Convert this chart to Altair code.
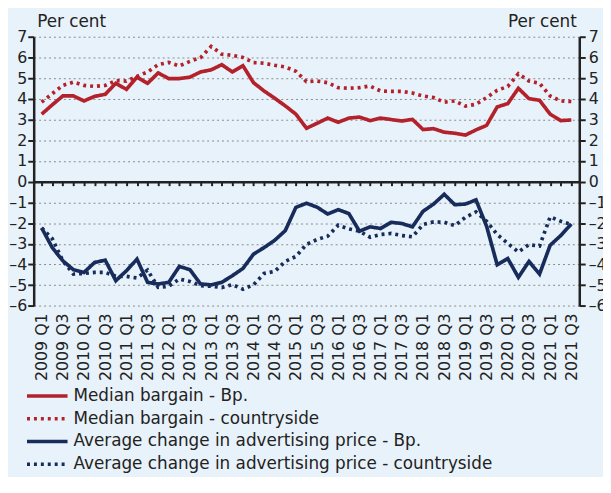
import altair as alt
import pandas as pd

# ---- data -------------------------------------------------------------
years = list(range(2009, 2022))
quarters = [f"{y} Q{q}" for y in years for q in (1, 2, 3, 4)][:51]  # 2009 Q1 .. 2021 Q3
label_quarters = [q for q in quarters if q.endswith("Q1") or q.endswith("Q3")]

median_bp = [3.26, 3.71, 4.14, 4.14, 3.90, 4.12, 4.22, 4.75, 4.46, 5.05, 4.75, 5.25, 4.98,
             4.98, 5.05, 5.30, 5.40, 5.65, 5.30, 5.60, 4.78, 4.38, 4.03, 3.66, 3.26, 2.58,
             2.82, 3.07, 2.87, 3.07, 3.12, 2.95, 3.07, 3.00, 2.93, 3.01, 2.52, 2.56, 2.39,
             2.34, 2.25, 2.50, 2.72, 3.61, 3.77, 4.51, 4.01, 3.93, 3.26, 2.95, 2.98]
median_cs = [3.84, 4.25, 4.65, 4.81, 4.65, 4.60, 4.65, 4.88, 4.86, 5.08, 5.30, 5.65, 5.76,
             5.59, 5.81, 5.99, 6.53, 6.16, 6.10, 6.00, 5.75, 5.72, 5.62, 5.54, 5.33, 4.83,
             4.86, 4.78, 4.54, 4.51, 4.54, 4.62, 4.38, 4.36, 4.36, 4.28, 4.14, 4.06, 3.84,
             3.90, 3.65, 3.74, 4.06, 4.41, 4.60, 5.21, 4.86, 4.75, 4.14, 3.90, 3.87]
avg_bp = [-2.23, -3.18, -3.82, -4.25, -4.38, -3.90, -3.79, -4.78, -4.30, -3.74, -4.86, -4.94,
          -4.86, -4.09, -4.25, -4.94, -4.98, -4.86, -4.54, -4.19, -3.50, -3.18, -2.83, -2.36,
          -1.24, -1.04, -1.23, -1.56, -1.35, -1.54, -2.39, -2.18, -2.26, -1.96, -2.02, -2.18,
          -1.43, -1.08, -0.61, -1.11, -1.08, -0.88, -2.15, -4.01, -3.71, -4.62, -3.85, -4.46,
          -3.07, -2.60, -2.04]
avg_cs = [-2.23, -2.75, -3.82, -4.46, -4.43, -4.38, -4.38, -4.57, -4.57, -4.65, -4.27, -5.10,
          -5.05, -4.70, -4.82, -5.02, -5.05, -5.11, -4.97, -5.19, -4.98, -4.43, -4.33, -3.85,
          -3.61, -3.03, -2.79, -2.63, -2.10, -2.28, -2.39, -2.68, -2.55, -2.50, -2.60, -2.66,
          -2.07, -1.94, -1.96, -2.12, -1.72, -1.46, -1.91, -2.55, -2.98, -3.39, -3.04, -3.11,
          -1.70, -1.91, -2.07]

series_names = ["Median bargain - Bp.",
                "Median bargain - countryside",
                "Average change in advertising price - Bp.",
                "Average change in advertising price - countryside"]
series_values = [median_bp, median_cs, avg_bp, avg_cs]
y_ticks = list(range(-6, 8))

# ---- styles -----------------------------------------------------------
series_colors = ["#b3212b", "#b3212b", "#172c5a", "#172c5a"]
series_dashes = [[1, 0], [3, 4], [1, 0], [3, 4]]
FONT = "DejaVu Sans"
INK = "#222222"
BG = "#e8f2fa"
NEG_LABEL = "datum.value < 0 ? '\u2013' + abs(datum.value) : datum.label"

rows = []
for name, vals in zip(series_names, series_values):
    for q, v in zip(quarters, vals):
        rows.append({"quarter": q, "value": v, "series": name})
df = pd.DataFrame(rows)

x_scale = alt.Scale(type="point", domain=quarters, padding=0.75)
y_scale = alt.Scale(domain=[-6, 7], nice=False, zero=False)

legend = alt.Legend(
    title=None, orient="none", legendX=-8.75, legendY=352, direction="vertical",
    symbolType="stroke", symbolSize=1681, symbolStrokeWidth=3.5, clipHeight=23,
    rowPadding=0, padding=0, labelFontSize=17, labelFont=FONT, labelColor=INK,
    labelOffset=4, labelLimit=600,
)

common_y = dict(values=y_ticks, domainWidth=2.5, domainColor=INK, tickSize=6, tickWidth=2,
                tickColor=INK, labelFontSize=16, labelFont=FONT, labelColor=INK,
                labelExpr=NEG_LABEL,
                title="Per cent", titleFontSize=17, titleFont=FONT, titleColor=INK,
                titleFontWeight="normal", titleAngle=0, titleBaseline="alphabetic", titleY=-10)

lines = alt.Chart(df).mark_line(strokeWidth=3.7).encode(
    x=alt.X("quarter:N", scale=x_scale,
            axis=alt.Axis(orient="bottom", values=label_quarters, labelAngle=270, ticks=False,
                          domain=False, grid=False, labelFontSize=16, labelPadding=7,
                          labelColor=INK, labelFont=FONT, labelOverlap=False, title=None)),
    y=alt.Y("value:Q", scale=y_scale,
            axis=alt.Axis(orient="left", grid=True, gridDash=[2, 3], gridColor="#8a8a8a",
                          gridWidth=1, labelPadding=1, titleAlign="left", titleX=3, **common_y)),
    color=alt.Color("series:N", scale=alt.Scale(domain=series_names, range=series_colors),
                    legend=legend),
    strokeDash=alt.StrokeDash("series:N", scale=alt.Scale(domain=series_names, range=series_dashes),
                              legend=legend),
)

frame = alt.Chart(df).mark_point(opacity=0).encode(
    x=alt.X("quarter:N", scale=x_scale,
            axis=alt.Axis(orient="bottom", offset=-125.72, labels=False, domainWidth=2.5,
                          domainColor=INK, tickSize=4, tickWidth=2, tickColor=INK,
                          grid=False, title=None)),
    y=alt.Y("value:Q", scale=y_scale,
            axis=alt.Axis(orient="right", grid=False, labelPadding=3, titleAlign="right",
                          titleX=-3, **common_y)),
)

chart = (
    alt.layer(lines, frame)
    .resolve_axis(x="independent", y="independent")
    .properties(width=552, height=272.4,
                padding={"left": 26, "top": 26.3, "right": 24, "bottom": 170.3},
                autosize=alt.AutoSizeParams(type="none"),
                background=BG)
    .configure_view(strokeWidth=0)
)

chart.save("out.html", embed_options={"renderer": "svg", "actions": False})
